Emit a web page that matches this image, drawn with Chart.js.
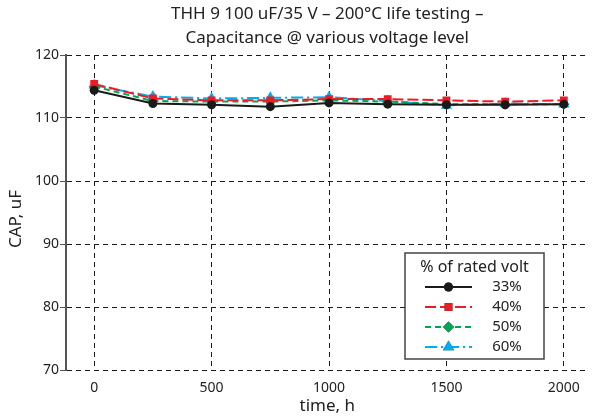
<!DOCTYPE html>
<html>
<head>
<meta charset="utf-8">
<script src="https://cdn.jsdelivr.net/npm/chart.js@4.4.1/dist/chart.umd.min.js"></script>
<style>
  body { margin: 0; background: #fff; }
  #wrap { width: 595px; height: 416px; position: relative; }
</style>
</head>
<body>
<div id="wrap"><canvas id="capChart"></canvas></div>
<script>
// data
var hours = [0, 250, 500, 750, 1000, 1250, 1500, 1750, 2000];
var cap33 = [114.4, 112.3, 112.1, 111.8, 112.4, 112.2, 112.1, 112.1, 112.2];
var cap40 = [115.4, 113.1, 112.8, 112.8, 113.0, 113.0, 112.8, 112.6, 112.8];
var cap50 = [115.0, 112.7, 112.6, 112.6, 112.8, 112.6, 112.2, 112.2, 112.2];
var cap60 = [115.2, 113.4, 113.1, 113.2, 113.3, 112.7, 112.0, 112.3, 112.2];
var seriesNames = ['33%', '40%', '50%', '60%'];
var xTicks = [0, 500, 1000, 1500, 2000];
var titleLines = ['THH 9 100 uF/35 V \u2013 200\u00b0C life testing \u2013', 'Capacitance @ various voltage level'];
var yTitle = 'CAP, uF';
var legendTitle = '% of rated volt';

var FONT = "'Noto Sans', 'Open Sans', sans-serif";

function pts(vals) {
    return hours.map(function(h, i) { return { x: h, y: vals[i] }; });
}

var styles = [
    { color: '#1a1a1a', dash: [], point: 'circle', r: 4.5 },
    { color: '#ed1c24', dash: [11, 4], point: 'rect', r: 5.5 },
    { color: '#00a651', dash: [6, 4], point: 'rectRot', r: 5.5 },
    { color: '#00aeef', dash: [12, 4, 2, 4], point: 'triangle', r: 6.5 }
];

var allVals = [cap33, cap40, cap50, cap60];
var datasets = allVals.map(function(v, i) {
    var s = styles[i];
    return {
        label: seriesNames[i],
        data: pts(v),
        borderColor: s.color,
        backgroundColor: s.color,
        borderWidth: 2,
        borderDash: s.dash,
        pointStyle: s.point,
        pointRadius: s.r,
        pointBorderWidth: 0,
        fill: false,
        tension: 0
    };
});

var boxPlugin = {
    id: 'boxPlugin',
    afterDraw: function(chart) {
        var c = chart.ctx;
        var area = chart.chartArea;
        c.save();
        // title
        c.fillStyle = '#222';
        c.font = '17px ' + FONT;
        c.textAlign = 'center';
        c.textBaseline = 'middle';
        var cx = (area.left + area.right) / 2;
        c.fillText(titleLines[0], cx, 14);
        c.fillText(titleLines[1], cx, 38);

        // y axis title
        c.save();
        c.translate(16, 219);
        c.rotate(-Math.PI / 2);
        c.fillText(yTitle, 0, 0);
        c.restore();

        // legend box
        var bx = 405, by = 253, bw = 139, bh = 106;
        c.fillStyle = '#fff';
        c.fillRect(bx, by, bw, bh);
        c.strokeStyle = '#444';
        c.lineWidth = 1.5;
        c.strokeRect(bx, by, bw, bh);
        c.fillStyle = '#222';
        c.font = '16px ' + FONT;
        c.fillText(legendTitle, bx + bw / 2, by + 14);
        c.font = '15px ' + FONT;
        chart.data.datasets.forEach(function(ds, i) {
            var y = by + 34 + i * 20;
            c.strokeStyle = ds.borderColor;
            c.lineWidth = 2;
            c.setLineDash(ds.borderDash);
            c.beginPath();
            c.moveTo(425, y);
            c.lineTo(472, y);
            c.stroke();
            c.setLineDash([]);
            Chart.helpers.drawPoint(c, {
                pointStyle: ds.pointStyle, radius: ds.pointRadius, borderWidth: 0, rotation: 0
            }, 448.5, y);
            c.fillStyle = ds.borderColor;
            c.fill();
            c.fillStyle = '#222';
            c.fillText(ds.label, 507, y);
        });
        c.restore();
    }
};

new Chart(document.getElementById('capChart'), {
    type: 'line',
    data: { datasets: datasets },
    plugins: [boxPlugin],
    options: {
        responsive: true,
        maintainAspectRatio: false,
        animation: false,
        layout: { padding: { top: 55, right: 0, bottom: 0, left: 0 } },
        plugins: {
            legend: { display: false },
            tooltip: { enabled: false }
        },
        scales: {
            x: {
                type: 'linear',
                min: -120,
                max: 2105,
                afterBuildTicks: function(scale) {
                    scale.ticks = xTicks.map(function(v) { return { value: v }; });
                },
                afterFit: function(scale) { scale.height = 46; },
                border: { display: false, dash: [5, 4] },
                grid: {
                    color: '#1a1a1a',
                    lineWidth: 1,
                    drawTicks: false
                },
                ticks: {
                    padding: 10,
                    color: '#222',
                    font: { family: FONT, size: 14 },
                    maxRotation: 0,
                    callback: function(v) { return String(v); }
                },
                title: {
                    display: true,
                    text: 'time, h',
                    color: '#222',
                    font: { family: FONT, size: 17 },
                    padding: { top: 0, bottom: 0 }
                }
            },
            y: {
                min: 70,
                max: 120,
                afterFit: function(scale) { scale.width = 66; },
                border: { display: true, color: '#555', width: 2, dash: [5, 4] },
                grid: {
                    color: '#1a1a1a',
                    lineWidth: 1,
                    drawTicks: true,
                    tickLength: 6,
                    tickColor: '#555',
                    tickBorderDash: []
                },
                ticks: {
                    stepSize: 10,
                    padding: 1,
                    color: '#222',
                    font: { family: FONT, size: 14 }
                }
            }
        }
    }
});
</script>
</body>
</html>
